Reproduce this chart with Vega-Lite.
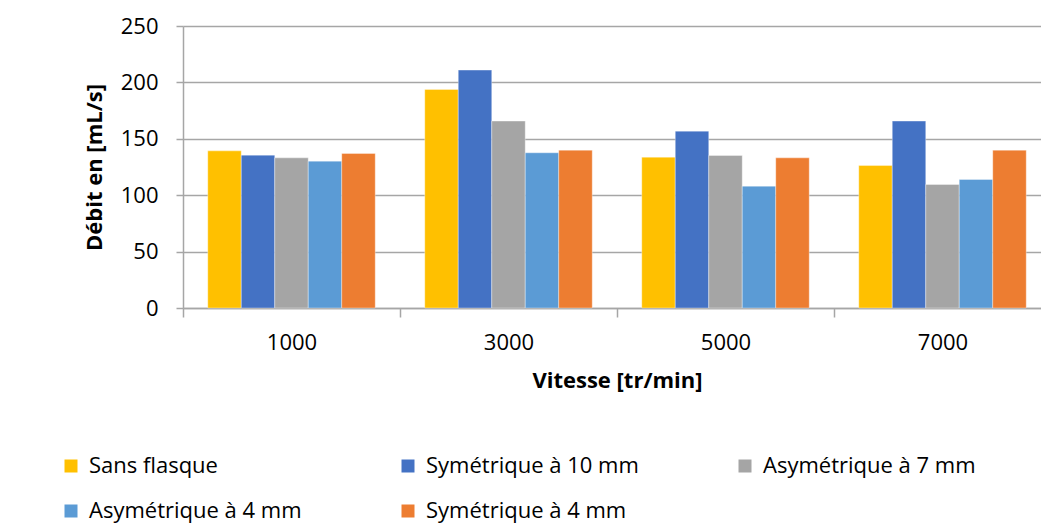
{
  "$schema": "https://vega.github.io/schema/vega-lite/v6.json",
  "autosize": "none",
  "padding": {"left": 183, "top": 26, "right": 0, "bottom": 224},
  "width": 858,
  "height": 282,
  "background": "white",
  "config": {
    "view": {"stroke": null},
    "font": "Open Sans",
    "axis": {"labelFont": "Open Sans", "titleFont": "Open Sans", "labelColor": "#000000", "titleColor": "#000000"},
    "legend": {"labelFont": "Open Sans"}
  },
  "data": {
    "values": [
      {"vitesse": "1000", "serie": "Sans flasque", "debit": 139.3},
      {"vitesse": "1000", "serie": "Symétrique à 10 mm", "debit": 135.5},
      {"vitesse": "1000", "serie": "Asymétrique à 7 mm", "debit": 133.1},
      {"vitesse": "1000", "serie": "Asymétrique à 4 mm", "debit": 130.2},
      {"vitesse": "1000", "serie": "Symétrique à 4 mm", "debit": 137.0},
      {"vitesse": "3000", "serie": "Sans flasque", "debit": 193.8},
      {"vitesse": "3000", "serie": "Symétrique à 10 mm", "debit": 210.9},
      {"vitesse": "3000", "serie": "Asymétrique à 7 mm", "debit": 165.7},
      {"vitesse": "3000", "serie": "Asymétrique à 4 mm", "debit": 137.6},
      {"vitesse": "3000", "serie": "Symétrique à 4 mm", "debit": 139.9},
      {"vitesse": "5000", "serie": "Sans flasque", "debit": 133.7},
      {"vitesse": "5000", "serie": "Symétrique à 10 mm", "debit": 156.8},
      {"vitesse": "5000", "serie": "Asymétrique à 7 mm", "debit": 135.2},
      {"vitesse": "5000", "serie": "Asymétrique à 4 mm", "debit": 108.0},
      {"vitesse": "5000", "serie": "Symétrique à 4 mm", "debit": 133.1},
      {"vitesse": "7000", "serie": "Sans flasque", "debit": 126.3},
      {"vitesse": "7000", "serie": "Symétrique à 10 mm", "debit": 165.7},
      {"vitesse": "7000", "serie": "Asymétrique à 7 mm", "debit": 109.5},
      {"vitesse": "7000", "serie": "Asymétrique à 4 mm", "debit": 113.9},
      {"vitesse": "7000", "serie": "Symétrique à 4 mm", "debit": 139.9}
    ]
  },
  "mark": {"type": "bar", "stroke": "white", "strokeWidth": 0.6, "strokeOpacity": 0.6},
  "encoding": {
    "x": {
      "field": "vitesse",
      "type": "ordinal",
      "sort": ["1000", "3000", "5000", "7000"],
      "scale": {"paddingInner": 0, "paddingOuter": 0, "range": [0, 868]},
      "axis": {
        "title": "Vitesse [tr/min]",
        "titleFontSize": 22,
        "titleFontWeight": "bold",
        "titlePadding": 17,
        "labelFontSize": 22,
        "labelAngle": 0,
        "labelPadding": 15,
        "tickBand": "extent",
        "tickSize": 9,
        "tickColor": "#a6a6a6",
        "tickWidth": 1.5,
        "domainColor": "#a6a6a6",
        "domainWidth": 1.5,
        "grid": false
      }
    },
    "xOffset": {
      "field": "serie",
      "type": "nominal",
      "sort": ["Sans flasque", "Symétrique à 10 mm", "Asymétrique à 7 mm", "Asymétrique à 4 mm", "Symétrique à 4 mm"],
      "scale": {"paddingInner": 0, "paddingOuter": 0.739}
    },
    "y": {
      "field": "debit",
      "type": "quantitative",
      "scale": {"domain": [0, 250], "nice": false},
      "axis": {
        "title": "Débit en [mL/s]",
        "titleFontSize": 22,
        "titleFontWeight": "bold",
        "titlePadding": 14,
        "values": [0, 50, 100, 150, 200, 250],
        "labelFontSize": 22,
        "labelPadding": 18,
        "tickSize": 7,
        "tickColor": "#a6a6a6",
        "tickWidth": 1.5,
        "domainColor": "#a6a6a6",
        "domainWidth": 1.5,
        "gridColor": "#a6a6a6",
        "gridWidth": 1.5
      }
    },
    "color": {
      "field": "serie",
      "type": "nominal",
      "scale": {
        "domain": ["Sans flasque", "Symétrique à 10 mm", "Asymétrique à 7 mm", "Asymétrique à 4 mm", "Symétrique à 4 mm"],
        "range": ["#FFC000", "#4472C4", "#A5A5A5", "#5B9BD5", "#ED7D31"]
      },
      "legend": {
        "title": null,
        "orient": "none",
        "legendX": -123,
        "legendY": 429,
        "direction": "horizontal",
        "columns": 3,
        "symbolType": "square",
        "symbolSize": 169,
        "symbolStrokeWidth": 0,
        "labelFontSize": 22,
        "labelOffset": 7,
        "labelLimit": 400,
        "columnPadding": 95,
        "rowPadding": 23
      }
    }
  }
}
